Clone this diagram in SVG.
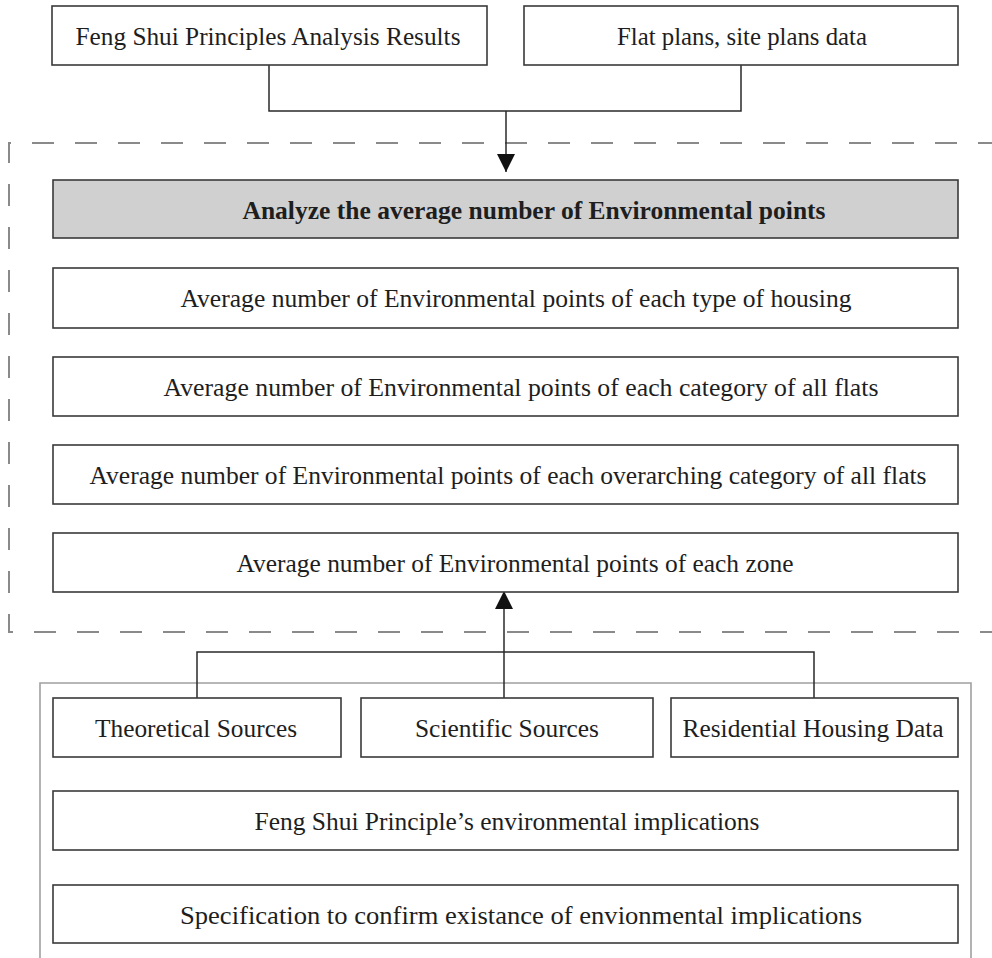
<svg xmlns="http://www.w3.org/2000/svg" width="992" height="958" viewBox="0 0 992 958">
  <style>
    .box { fill: #ffffff; stroke: #3a3a3a; stroke-width: 1.6; }
    .shaded { fill: #d0d0d0; stroke: #3a3a3a; stroke-width: 1.6; }
    .lbl { font-family: "Liberation Serif", "Tinos", "Times New Roman", Times, serif; font-size: 26px; fill: #1e1e1e; text-anchor: middle; }
    .bold { font-weight: bold; }
    .wire { fill: none; stroke: #2a2a2a; stroke-width: 1.5; }
    .dashframe { fill: none; stroke: #8a8a8a; stroke-width: 2; stroke-dasharray: 22 21; }
    .frame { fill: none; stroke: #a0a0a0; stroke-width: 1.6; }
  </style>
  <defs>
    <marker id="arrowhead" markerWidth="20" markerHeight="18" refX="18" refY="9" orient="auto" markerUnits="userSpaceOnUse">
      <path d="M0,0 L18,9 L0,18 Z" fill="#111111"/>
    </marker>
  </defs>

  <rect width="992" height="958" fill="#ffffff"/>

  <!-- enclosing frames -->
  <g id="frames">
    <path class="dashframe" d="M1000,143 H9 V632 H1000"/>
    <path class="frame" d="M40,965 V683 H971 V965"/>
  </g>

  <!-- connectors -->
  <g id="connectors">
    <path class="wire" d="M269,65 V111 H741 V65"/>
    <path class="wire" d="M506,111 V172" marker-end="url(#arrowhead)"/>
    <path class="wire" d="M197,698 V652 H814 V698"/>
    <path class="wire" d="M504,698 V591" marker-end="url(#arrowhead)"/>
  </g>

  <g id="n-results">
    <rect class="box" x="52" y="6" width="435" height="59"/>
    <text class="lbl" x="268" y="45" textLength="385" lengthAdjust="spacingAndGlyphs">Feng Shui Principles Analysis Results</text>
  </g>
  <g id="n-plans">
    <rect class="box" x="524" y="6" width="434" height="59"/>
    <text class="lbl" x="742" y="45" textLength="250" lengthAdjust="spacingAndGlyphs">Flat plans, site plans data</text>
  </g>

  <g id="n-analyze">
    <rect class="shaded" x="53" y="180" width="905" height="58"/>
    <text class="lbl bold" x="534" y="219" textLength="583" lengthAdjust="spacingAndGlyphs">Analyze the average number of Environmental points</text>
  </g>
  <g id="n-housing">
    <rect class="box" x="53" y="268" width="905" height="60"/>
    <text class="lbl" x="516" y="307" textLength="671" lengthAdjust="spacingAndGlyphs">Average number of Environmental points of each type of housing</text>
  </g>
  <g id="n-category">
    <rect class="box" x="53" y="357" width="905" height="59"/>
    <text class="lbl" x="521" y="396" textLength="715" lengthAdjust="spacingAndGlyphs">Average number of Environmental points  of each category of all flats</text>
  </g>
  <g id="n-overarching">
    <rect class="box" x="53" y="445" width="905" height="59"/>
    <text class="lbl" x="508" y="484" textLength="837" lengthAdjust="spacingAndGlyphs">Average number of Environmental points of each overarching category of all flats</text>
  </g>
  <g id="n-zone">
    <rect class="box" x="53" y="533" width="905" height="59"/>
    <text class="lbl" x="515" y="572" textLength="557" lengthAdjust="spacingAndGlyphs">Average number of Environmental points of each zone</text>
  </g>

  <g id="n-theoretical">
    <rect class="box" x="53" y="698" width="288" height="59"/>
    <text class="lbl" x="196" y="737" textLength="202" lengthAdjust="spacingAndGlyphs">Theoretical Sources</text>
  </g>
  <g id="n-scientific">
    <rect class="box" x="361" y="698" width="292" height="59"/>
    <text class="lbl" x="507" y="737" textLength="184" lengthAdjust="spacingAndGlyphs">Scientific Sources</text>
  </g>
  <g id="n-residential">
    <rect class="box" x="671" y="698" width="287" height="59"/>
    <text class="lbl" x="813" y="737" textLength="261" lengthAdjust="spacingAndGlyphs">Residential Housing Data</text>
  </g>

  <g id="n-implications">
    <rect class="box" x="53" y="791" width="905" height="59"/>
    <text class="lbl" x="507" y="830" textLength="505" lengthAdjust="spacingAndGlyphs">Feng Shui Principle’s environmental implications</text>
  </g>
  <g id="n-specification">
    <rect class="box" x="53" y="885" width="905" height="58"/>
    <text class="lbl" x="521" y="924" textLength="682" lengthAdjust="spacingAndGlyphs">Specification to confirm existance of envionmental implications</text>
  </g>
</svg>
